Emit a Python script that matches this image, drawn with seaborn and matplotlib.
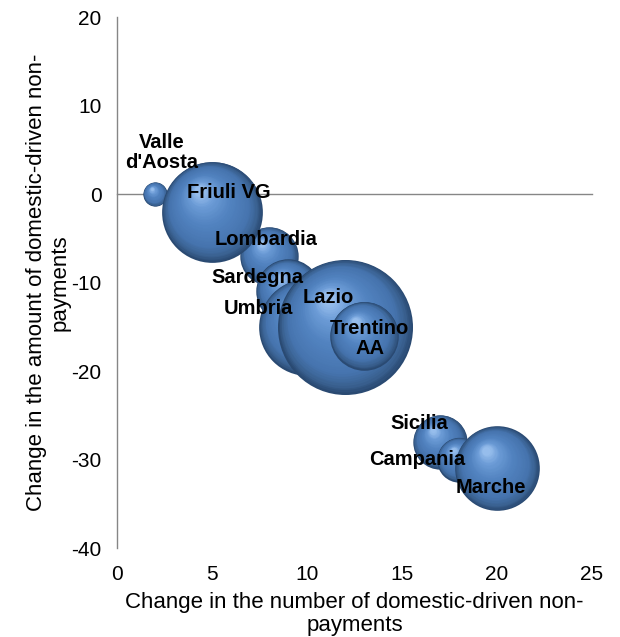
import numpy as np
import pandas as pd
import matplotlib
matplotlib.use('Agg')
import matplotlib.pyplot as plt
import matplotlib.transforms as mtransforms
from matplotlib.colors import LinearSegmentedColormap
import seaborn as sns

# Bubble data (drawing order matters: later bubbles sit on top)
regions = ["Valle\nd'Aosta", 'Lombardia', 'Friuli VG', 'Sardegna', 'Umbria',
           'Lazio', 'Trentino\nAA', 'Sicilia', 'Campania', 'Marche']
change_number = [2, 8, 5, 9, 10, 12, 13, 17, 18, 20]
change_amount = [0, -7, -2, -11, -15, -15, -16, -28, -30, -31]
bubble_size = [3.2, 18.7, 55.7, 22.8, 51.3, 100, 25.8, 16.2, 10.8, 39.3]

df = pd.DataFrame({
    'region': regions,
    'change_number': change_number,
    'change_amount': change_amount,
    'bubble_size': bubble_size,
})

# label offsets (points) from the bubble centre
label_offsets = {
    "Valle\nd'Aosta": (5, 30), 'Friuli VG': (12, 14), 'Lombardia': (-2, 12),
    'Sardegna': (-22, 10), 'Umbria': (-35, 13), 'Lazio': (-12, 21),
    'Trentino\nAA': (4, -2), 'Sicilia': (-15, 13), 'Campania': (-30, 0),
    'Marche': (-4, -14),
}

sns.set_style('white')
plt.rcParams['font.family'] = ['Liberation Sans', 'DejaVu Sans']
plt.rcParams['axes.unicode_minus'] = False
plt.rcParams['text.color'] = 'black'
plt.rcParams['axes.labelcolor'] = 'black'

fig = plt.figure(figsize=(6.2, 6.37), dpi=100)
ax = fig.add_axes([0.1887, 0.1397, 0.766, 0.8336])

max_area = 9450  # points^2 for bubble_size == 100
axis_grey = '#868686'

# sphere-like shading: dark rim -> mid blue -> highlight
shade = LinearSegmentedColormap.from_list('sphere', [
    (0.0, '#2a4a72'), (0.08, '#39608f'), (0.22, '#4674ae'),
    (0.55, '#5283c0'), (0.82, '#6b9bd6'), (1.0, '#96bdec')])
n_layers = 40
highlight = np.array([-0.25, 0.42])

for i, row in df.iterrows():
    z = 3 + i
    sns.scatterplot(data=df.iloc[[i]], x='change_number', y='change_amount',
                    size='bubble_size', sizes=(0, max_area), size_norm=(0, 100),
                    color=shade(0.0), linewidth=0, legend=False, ax=ax, zorder=z)
    area = row['bubble_size'] / 100 * max_area
    r = np.sqrt(area) / 2
    for j in range(1, n_layers + 1):
        t = j / n_layers
        f = 1 - 0.9 * t
        dx, dy = (1 - f) / 0.9 * highlight * r
        tr = mtransforms.offset_copy(ax.transData, fig=fig, x=dx, y=dy, units='points')
        ax.scatter([row['change_number']], [row['change_amount']], s=area * f ** 2,
                   color=shade(t), linewidth=0, transform=tr, zorder=z + t * 0.5)

for i, row in df.iterrows():
    ax.annotate(row['region'], (row['change_number'], row['change_amount']),
                xytext=label_offsets[row['region']], textcoords='offset points',
                ha='center', va='center', fontsize=14.5, fontweight='bold',
                color='black', zorder=50, linespacing=1.05)

ax.set_xlim(0, 25)
ax.set_ylim(-40, 20)
ax.set_xticks(range(0, 26, 5))
ax.set_yticks(range(-40, 21, 10))
ax.spines['top'].set_visible(False)
ax.spines['right'].set_visible(False)
ax.spines['bottom'].set_position(('data', 0))
for s in ['bottom', 'left']:
    ax.spines[s].set_color(axis_grey)
    ax.spines[s].set_linewidth(1.0)
    ax.spines[s].set_zorder(2)
ax.tick_params(axis='x', direction='out', length=5, color=axis_grey, labelbottom=False)
ax.tick_params(axis='y', direction='out', length=5, color=axis_grey,
               labelsize=15, labelcolor='black', pad=6)
ax.set_xlabel('')
ax.set_ylabel('Change in the amount of domestic-driven non-\npayments',
              fontsize=16, labelpad=1, linespacing=1.15)

# tick labels and title of x axis sit below the plot area (Excel "low" labels)
sec = ax.secondary_xaxis('bottom')
sec.set_xticks(range(0, 26, 5))
sec.spines['bottom'].set_visible(False)
sec.tick_params(axis='x', length=0, labelsize=15, labelcolor='black', pad=12)
sec.set_xlabel('Change in the number of domestic-driven non-\npayments',
               fontsize=16, labelpad=6, linespacing=1.15)

ax.set_facecolor('white')
fig.patch.set_facecolor('white')
fig.savefig('out.png', dpi=100)
